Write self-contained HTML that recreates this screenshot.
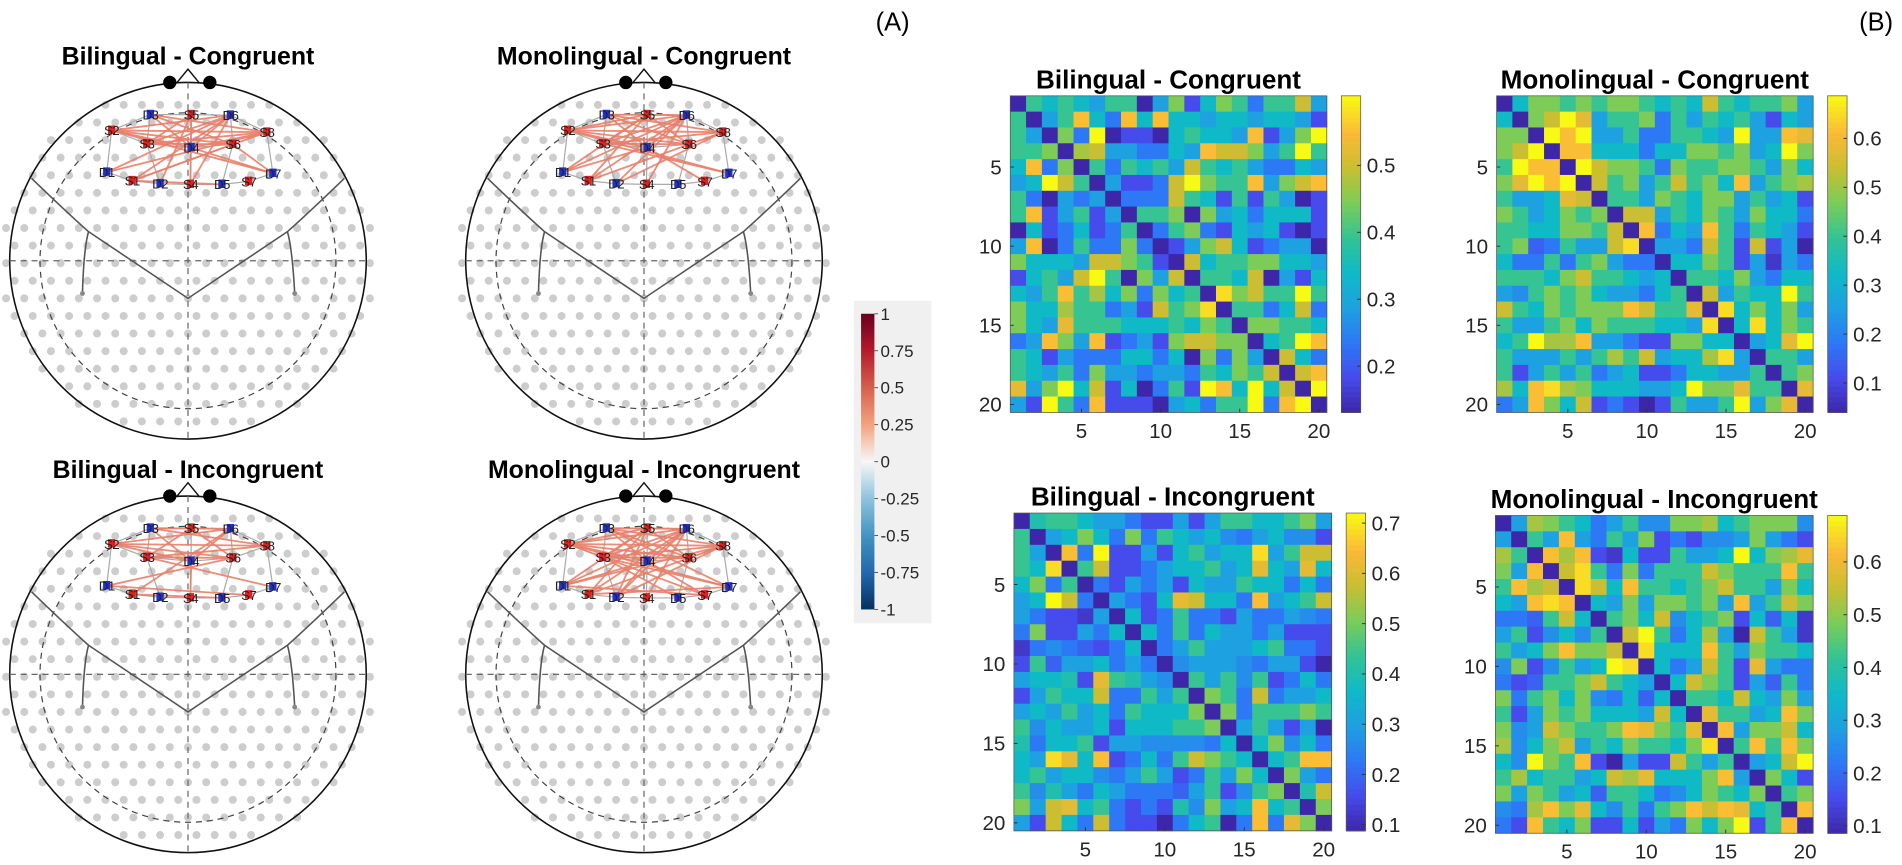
<!DOCTYPE html>
<html><head><meta charset="utf-8">
<style>
html,body{margin:0;padding:0;background:#fff;}
svg{display:block;font-family:"Liberation Sans",Arial,sans-serif;}
</style></head>
<body>
<svg id="fig" width="1902" height="865" viewBox="0 0 1568.3 713.2" preserveAspectRatio="none" xmlns="http://www.w3.org/2000/svg">
<text x="722" y="25" font-size="21">(A)</text>
<text x="1533" y="25" font-size="21">(B)</text>
<g id="heads"></g>
<g id="legend"></g>
<g id="heatmaps"></g>
</svg>
<script>
// ---------- heatmap data (colour levels 0..9 on each panel's colour scale) ----------
const bcLevels = [
[0,5,4,5,4,3,5,5,0,3,6,1,4,6,5,2,5,5,7,3],
[5,0,3,5,8,4,2,8,4,8,4,4,3,4,4,3,4,4,3,1],
[5,3,0,6,2,9,0,1,1,0,4,5,4,4,3,8,1,3,6,9],
[5,5,6,0,6.5,7,3,3,2,2,4,3,8,7,7,6,3,5,9,5],
[4,8,2,6,0,5,2,5,4,5,3,7,5,4,5,3,2,2,4,3],
[3,4,9,7,5,0,3,1,1,2,7,9,6,5,5,8,3,6,7,8],
[5,2,0,3,2,3,0,2,2,2,7,5,4,1,5,1,5,3,0,1],
[5,8,1,3,5,1,3,0,5,5,6,0,6,3,4,2,4,4,4,1],
[0,4,1,2,4,1,2,5,0,2,5,6,2,1,4,3,4,1,0,1],
[3,8,0,2,5,2,2,6,2,0,1,3,6,7,4,1,2,3,3,0],
[6,4,4,4,3,7,7,6,5,1,0,7,4,5,5,6,6,4,4,3],
[1,4,5,3,7,9,5,0,6,3,7,0,5,5,4,7,0,3,1,4],
[4,3,5,8,5,6.5,4,6,2,6,4,5,0,8.5,6,7,5,5,9,5],
[6,4,4,6.5,5,5,2,3,1,7,5,6,8.5,0,5,5,2,4,7,2],
[6,4,3,7.5,5,5,5,4,4,4,5,4,6,5,0,6,6,5,5,4],
[2,3,8,6,3,8,1,2,3,1,6,7,7,6,6,0,4,5,9,8],
[5,4,1,3,2,2,2,4,4,2,4,0,6,2,6,3,0,7,4,2],
[5,4,3,5,2,6,3,3,2,3,3,2,5,4,6,5,7,0,7,8],
[7.5,3,6,9,4,7,1,4,0,2,5,1,9,8,4,9,4,7,0,9],
[3,1,9,5,2,8,1,1,1,0,3,4,2,5,5,9,2,8,9,0]];
const mcLevels = [
[0,4,6,6,5,6,5,6,6,5,4,5,4,7,5,4,5,5,6,3],
[4,0,6,7,9,7.5,3,5,5,6,2,5,3,5,4,5,3,1,4,3],
[6,6,0,9,8,9,3,3,5,2,2,5,5,4,3,9,3,3,8,7.5],
[6,7,9,0,8,8,4,4,4,2,4,4,6,6,5,6,3,4,9,6],
[5,9,8,8,0,9,7,6,6,5,2,6,5,5,6,6,5,3,6,4],
[6,7.5,9,8,9,0,7,5,6,3,5,7,5,6,4,8,3,5,6,6.5],
[5,3,3,4,7.5,7,0,5,5,3,6,5,4,6,6,3,5,3,4,1],
[6,5,3,4,6,5,6,0,7,7,3,5,4,6,5,3,6,4,4,2],
[5,5,4,4,6,6,5,7,0,8,2,4,3,8,5,2,5,4,3,1],
[5,6,1.5,2,5,3,3,7,8.5,0,3,3,2,7,5,1,7,1,3,0],
[4,2,2,5,2,5,6,3,2,2,0,4,4,6,5,1,3,0.5,3,2],
[5,5,5,4,6,7,5,5,4,3,4,0,5,5,4,6,3,2,4,4],
[3,2.5,5,6,5,6,4,3,3,2,4,5,0,7,3,5,4,4,9,5],
[7,5,4,6,5,6,6,6,8,7,5,5,7.5,0,8.5,4,6,4,6,3],
[5,3,3,5,6,4,6,5,5,5,4,4,3,8.5,0,4,8.5,4,6,5],
[4,5,9,6.5,6.5,8,3,3,2,1,1,6,6,4,4,0,3,4,7.5,9],
[5,3,3,3,5,3,5,6.5,5,7,3,4,4,6.5,8.5,3,0,5,5,3],
[5,1,3,5,3,5,2,3,4,1,1,2,4,4,3,3,5,0,5,6],
[6.5,4,8,8.5,6.5,6,4,4,4,3,3,4,9,6,6,7.5,5,5,0,7.5],
[2,3,8,6,4,7,1,2,1,0,1,5,3,3,5,9,3,6,7.5,0]];
const biLevels = [
[0,4.5,5,5,4,3,3,2,1,1,3,1,3,5,5,4,4,5,6,3],
[5,0,3,4,6,4,2,6,2,5,4,3,4,2.5,2,3,4,2.5,2.5,1],
[5,3,0,8,2,9,1,1,3,1,4,5,3,4,4,8.5,3,5,7,7],
[5,4,8.5,0,5,7,1,1,2,3,4,4,5,3,4,7.5,4,3,7.5,4],
[4,6,2,5,0,2,1,3,2,3,1,4,3,3,5,4,4,2,4,2],
[3,4,9,7,2,0,3,2,1,4,7.5,7,4,4,2,8,3,4,5,7],
[3,2,1,1,0.5,3,0,4,1,2,5,2,2,1,3,2,2,3,2.5,2],
[2,6,1,1,3,2,4,0,4,2,5,2,4,3,3,2,3,1,1,1],
[0.5,2,2.5,2,1.5,1,2,4,0,2,3,5,3,3,3,4,5,2,2,1],
[1,5,1.5,3,3,4,2,3,2,0,2.5,3,3,3,2.5,2,3,3,1,0],
[3,4,4,4.5,1,7.5,5,4.5,3,2.5,0,5,3,5,2.5,5,1,2,4,2],
[1,3,5,4,4,7,2,2,5,3,5,0,6,5,2,7,2,3,3,4],
[3,4,3,5,3,4,2,5,4,4,4,6,0,6,2,5,5,5,6,5],
[5,2.5,4,3,3,4,1,4,4,4,5,5,6,0,3,5,3,1,3,0],
[4.5,2,4,4,5,1,3,3,2.5,2.5,2.5,2.5,2,4,0,4,6,2.5,4,2],
[4,3,8.5,7.5,4,8,1,2,4,2,5,7,6,5,4,0,4,5,8,8],
[4,5,3,4,4,2.5,2,3,5,3,1,2,5,3,6,4,0,6,3,2],
[5,2.5,4.5,3,2,4,3,2,2,2,1.5,3,5,1,2.5,5,6,0,4.5,7],
[6,3,7,7.5,4,5,2,1,2,1,4.5,2.5,6,3,4,8,4,5,0,6],
[3,1,7,4,2,7,2,1,1,0,2,4,5,0,2,8,2,7.5,6,0]];
const miLevels = [
[0,3,6.5,6,5,4,2,3,5,2.5,2.5,6,6,6.5,4,5,6,6,6,2.5],
[3,0,5,3,8,3,2,5,3,6,1,2,1,2.5,2.5,3,6,3,2,1],
[6.5,5,0,8,6.5,8,1,0.5,4,1,1,5,3,3,4,9,4,6,6.5,7.5],
[6,3,8,0,7,8.5,5,2,6,2,5,5,5,7,6,5,5,5,8,5],
[5,8,6.5,7,0,8.5,7,4,8,5,5,4,5,6,7,5,5,3,6,4],
[4,3,8,8.5,8,0,4,3,6,3,6,6,5,6,3,8,3,5,7,6],
[2,2,1.5,5,7,4,0,5,6,4,7,2.5,4,5,6,1,4,1.5,4,0.5],
[3,5,1,2.5,4,2.5,5,0,7,9,5,2,4,6.5,3,0,7,5,3,0.5],
[5,3,4,6,8,6,6,7,0,8.5,4,4,4,8,5,3,6,5,5,4],
[2.5,6,1,2.5,5,3,4,9,8.5,0,4,2,3,7,5,1,7.5,3,2,2],
[2,1,1.5,5,5,6,7,5,4,3,0,4,7,6,5,1,3,1.5,5,2],
[6,2,5,6,4,6,2.5,2,4,1.5,4,0,5,5,4,7,4,3,6,3],
[5,1,3,6,5,6,4,4,4,3,7,4,0,7.5,5,5,3,4,8,6],
[6,2.5,3,7,6,5,5,6,8,7.5,6,5,7.5,0,8,3,6,6,7,4],
[6.5,2.5,4,6,7,3,5,4,6,5,5,4,6,8.5,0,5,8,5,8,6],
[4,2.5,9,6,5,8,1,0,3,1,1,7,5,3,5,0,3,4,7,9],
[5,6.5,4,5,5,3,4,7,6.5,7.5,4,4,4,6,8,3,0,6,4,1],
[6,3,6,5,3,4,1.5,5,5,4,2,2.5,4,6,5,4,6,0,5,6],
[2.5,2,6.5,8,6,7.5,4,2.5,5,2,5,6,8,7,8,7.5,4,5,0,8],
[2,1,8,5,4,6,1,1,4,1,3,2,6,4,6,9,1,5,8,0]];
// colour-bar tick labels per heatmap
const bcTicks = [0.2,0.3,0.4,0.5];
const mcTicks = [0.1,0.2,0.3,0.4,0.5,0.6];
const biTicks = [0.1,0.2,0.3,0.4,0.5,0.6,0.7];
const miTicks = [0.1,0.2,0.3,0.4,0.5,0.6];
const bcRange = [0.131,0.604];
const mcRange = [0.04,0.687];
const biRange = [0.088,0.72];
const miRange = [0.086,0.688];
const axisTicks = [5,10,15,20];
// correlation legend ticks
const legendTicks = [1,0.75,0.5,0.25,0,-0.25,-0.5,-0.75,-1];
// fNIRS connectivity edges per condition
const bcEdges = [["S2","D6"],["S2","S8"],["D3","S8"],["D3","D4"],["S5","S3"],["D6","S3"],["D6","D4"],["D6","S1"],["D6","D1"],["S5","S4"],["S3","S6"],["S3","S8"],["D4","S8"],["S2","S6"],["S1","S8"],["D1","S8"],["S1","D5"],["S4","D6"],["D2","S5"],["D4","D7"],["S6","D7"],["S1","S6"],["D3","S6"],["S2","D4"],["S2","D7"]];
const mcEdges = [["S2","D6"],["S2","S8"],["D3","S8"],["D3","D4"],["S5","S3"],["D6","S3"],["D6","D4"],["S2","S5"],["S2","S6"],["S3","S8"],["S3","S6"],["S2","D7"],["D3","D6"],["D1","S5"],["D1","D6"],["S1","D6"],["S1","S5"],["D2","S8"],["S1","S8"],["S4","D6"],["D4","S7"],["S2","D4"],["D3","S6"],["S3","D7"],["D1","D4"],["D2","D6"],["S5","S6"]];
const biEdges = [["S2","S8"],["D3","D6"],["S3","S6"],["S2","D6"],["D3","S8"],["S3","S8"],["D1","S7"],["S2","S6"],["S5","S3"],["S5","S6"],["D3","D4"],["D6","D4"],["S2","D4"],["D1","S6"],["S1","D5"],["S1","D6"],["D4","S4"],["S3","D7"]];
const miEdges = [["S2","D6"],["S2","S8"],["D3","S8"],["D3","D4"],["S5","S3"],["D6","S3"],["D6","D4"],["S2","S5"],["S2","S6"],["S3","S8"],["S3","S6"],["S2","D7"],["D3","D6"],["D1","S5"],["D1","D6"],["S1","D6"],["S1","S5"],["D2","S8"],["S1","S8"],["S4","D6"],["D4","S7"],["S2","D4"],["D3","S6"],["S3","D7"],["D1","D4"],["D2","D6"],["S5","S6"],["D1","S8"],["D1","S7"],["S1","D7"],["D2","S5"],["S2","S7"],["D3","D7"],["S3","D5"],["D4","D2"]];

const NS = "http://www.w3.org/2000/svg";
function mk(tag, attrs, parent){const e=document.createElementNS(NS,tag);for(const k in attrs)e.setAttribute(k,attrs[k]);if(parent)parent.appendChild(e);return e;}

// parula-like colormap
const pStops=[[0,62,38,168],[0.11,70,75,235],[0.22,45,120,245],[0.33,30,160,225],[0.44,15,185,200],[0.55,50,195,150],[0.66,120,205,90],[0.77,200,190,50],[0.88,250,185,55],[1,249,250,20]];
function parula(t){t=Math.max(0,Math.min(1,t));for(let i=1;i<pStops.length;i++){if(t<=pStops[i][0]){const a=pStops[i-1],b=pStops[i];const f=(t-a[0])/(b[0]-a[0]);return `rgb(${Math.round(a[1]+f*(b[1]-a[1]))},${Math.round(a[2]+f*(b[2]-a[2]))},${Math.round(a[3]+f*(b[3]-a[3]))})`;}}return "rgb(249,250,20)";}

// ---------- heatmaps ----------
const hm = document.getElementById('heatmaps');
function drawHeatmap(levels, x0, y0, size, title, cbx, range, ticks, nm){
  const g = mk('g',{},hm);
  
  
  const n = levels.length, c = size/n;
  const xs = i => x0 + i*c, ys = j => y0 + j*c;
  levels.forEach((row,j)=>row.forEach((L,i)=>{
    const r = mk('rect',{x:xs(i),y:ys(j),width:c+0.4,height:c+0.4,fill:parula(L/9)},g);
    
    
  }));
  mk('rect',{x:x0,y:y0,width:size,height:size,fill:'none',stroke:'#555','stroke-width':0.6},g);
  const t = mk('text',{x:x0+size/2,y:y0-6,'text-anchor':'middle','font-size':21.5,'font-weight':'bold'},g);
  t.textContent = title;
  
  
  axisTicks.forEach(v=>{
    const p = x0 + (v-0.5)*c;
    const yl = mk('text',{x:x0-7,y:y0+(v-0.5)*c+6,'text-anchor':'end','font-size':17,fill:'#262626'},g);
    yl.textContent = v;
    
    
    const xl = mk('text',{x:p,y:y0+size+21,'text-anchor':'middle','font-size':17,fill:'#262626'},g);
    xl.textContent = v;
    
    
    mk('line',{x1:p,x2:p,y1:y0+size,y2:y0+size-3,stroke:'#333','stroke-width':0.8},g);
    mk('line',{x1:x0,x2:x0+3,y1:y0+(v-0.5)*c,y2:y0+(v-0.5)*c,stroke:'#333','stroke-width':0.8},g);
  });
  const cb = mk('g',{},g);
  
  
  const steps=60, w=16;
  for(let k=0;k<steps;k++){
    mk('rect',{x:cbx,y:y0+size-(k+1)*size/steps,width:w,height:size/steps+0.5,fill:parula((k+0.5)/steps)},cb);
  }
  mk('rect',{x:cbx,y:y0,width:w,height:size,fill:'none',stroke:'#555','stroke-width':0.6},cb);
  const vy = v => y0 + size - (v-range[0])/(range[1]-range[0])*size;
  ticks.forEach(v=>{
    mk('line',{x1:cbx+w-3,x2:cbx+w,y1:vy(v),y2:vy(v),stroke:'#333','stroke-width':0.8},cb);
    const tl = mk('text',{x:cbx+w+5,y:vy(v)+6,'font-size':17,fill:'#262626'},cb);
    tl.textContent = v.toFixed(1);
    
    
  });
}
drawHeatmap(bcLevels, 833, 79, 261, 'Bilingual - Congruent', 1106, bcRange, bcTicks, 'heatmap-bilingual-congruent');
drawHeatmap(mcLevels, 1234, 79, 261, 'Monolingual - Congruent', 1507, mcRange, mcTicks, 'heatmap-monolingual-congruent');
drawHeatmap(biLevels, 836, 423, 262, 'Bilingual - Incongruent', 1110, biRange, biTicks, 'heatmap-bilingual-incongruent');
drawHeatmap(miLevels, 1233, 425, 262, 'Monolingual - Incongruent', 1507, miRange, miTicks, 'heatmap-monolingual-incongruent');

// ---------- legend (correlation) ----------
const lg = document.getElementById('legend');
mk('rect',{x:704,y:248,width:64,height:266,fill:'#f0f0f0'},lg);
const defs = mk('defs',{},lg);
const grad = mk('linearGradient',{id:'rb',x1:0,y1:0,x2:0,y2:1},defs);
[['0','#67001f'],['0.12','#b2182b'],['0.25','#d6604d'],['0.38','#f4a582'],['0.5','#f7f7f7'],['0.62','#92c5de'],['0.75','#4393c3'],['0.88','#2166ac'],['1','#053061']].forEach(s=>mk('stop',{offset:s[0],'stop-color':s[1]},grad));
const lTop=258.7, lBot=502.5;
mk('rect',{x:710,y:lTop,width:11,height:lBot-lTop,fill:'url(#rb)'},lg);
const ly = v => lTop + (1-v)/2*(lBot-lTop);
legendTicks.forEach(v=>{
  mk('line',{x1:721,x2:724,y1:ly(v),y2:ly(v),stroke:'#555','stroke-width':0.8},lg);
  const t = mk('text',{x:726,y:ly(v)+5,'font-size':14,fill:'#262626'},lg);
  t.textContent = String(v);
  
  
});

// ---------- head maps ----------
const optodes = {D3:[-31,-120.5],S5:[2.6,-120.5],D6:[35,-120],S2:[-63,-107.5],S8:[65,-106],S3:[-34,-96.5],D4:[2.6,-93.3],S6:[37,-96],D1:[-67,-73],S1:[-46,-66],D2:[-23,-63.5],S4:[2,-63],D5:[28,-63],S7:[50,-65.4],D7:[70,-72]};
const neighbours = [["D3","S5"],["S5","D6"],["S2","D3"],["D6","S8"],["S2","S3"],["S3","D4"],["D4","S6"],["S6","S8"],["D1","S1"],["S1","D2"],["D2","S4"],["S4","D5"],["D5","S7"],["S7","D7"],["S8","D7"],["S2","D1"],["S3","D2"],["S6","D5"],["D4","S4"],["S5","D4"],["D3","S3"],["D6","S6"]];
const hg = document.getElementById('heads');
function drawHead(cx, cy, title, edges, nm){
  const g = mk('g',{},hg);
  
  
  const R = 147;
  for(let j=-9;j<=10;j++){
    for(let i=-11;i<=11;i++){
      const x = cx + i*15 + (j%2?7:0), y = cy + j*14.5 + 2;
      const d = Math.hypot((x-cx)/(R+10),(y-cy)/(R-2));
      if(d<=1) mk('circle',{cx:x,cy:y,r:3.3,fill:'#cdcdcd'},g);
    }
  }
  mk('circle',{cx:cx,cy:cy,r:R,fill:'none',stroke:'#111','stroke-width':1.3},g);
  mk('circle',{cx:cx,cy:cy,r:122,fill:'none',stroke:'#444','stroke-width':1,'stroke-dasharray':'5,4'},g);
  mk('line',{x1:cx-R,x2:cx+R,y1:cy,y2:cy,stroke:'#666','stroke-width':1,'stroke-dasharray':'5,4'},g);
  mk('line',{x1:cx,x2:cx,y1:cy-R,y2:cy+R,stroke:'#666','stroke-width':1,'stroke-dasharray':'5,4'},g);
  mk('path',{d:`M${cx-9},${cy-R} L${cx},${cy-R-11} L${cx+9},${cy-R}`,fill:'none',stroke:'#111','stroke-width':1.2},g);
  mk('circle',{cx:cx-15,cy:cy-R,r:5.5,fill:'#000'},g);
  mk('circle',{cx:cx+18,cy:cy-R,r:5.5,fill:'#000'},g);
  mk('path',{d:`M${cx-129},${cy-68} Q${cx-100},${cy-40} ${cx-82},${cy-24} L${cx},${cy+31} L${cx+82},${cy-24} Q${cx+100},${cy-40} ${cx+129},${cy-68}`,fill:'none',stroke:'#555','stroke-width':1.3},g);
  mk('path',{d:`M${cx-82},${cy-24} Q${cx-86},${cy-10} ${cx-87},${cy+27}`,fill:'none',stroke:'#555','stroke-width':1.3},g);
  mk('path',{d:`M${cx+82},${cy-24} Q${cx+86},${cy-10} ${cx+88},${cy+27}`,fill:'none',stroke:'#555','stroke-width':1.3},g);
  mk('circle',{cx:cx-87,cy:cy+27,r:2,fill:'#888'},g);
  mk('circle',{cx:cx+88,cy:cy+27,r:2,fill:'#888'},g);
  const P = k => [cx+optodes[k][0], cy+optodes[k][1]];
  neighbours.forEach(e=>{const a=P(e[0]),b=P(e[1]);mk('line',{x1:a[0],y1:a[1],x2:b[0],y2:b[1],stroke:'#aaa','stroke-width':1},g);});
  edges.forEach(e=>{
    const a=P(e[0]),b=P(e[1]);
    const l = mk('line',{x1:a[0],y1:a[1],x2:b[0],y2:b[1],stroke:'#e8806a','stroke-width':1.5,opacity:0.9},g);
    
    
  });
  Object.keys(optodes).forEach(k=>{
    const p = P(k);
    mk('rect',{x:p[0]-3,y:p[1]-4,width:6,height:7,fill:k[0]==='S'?'#e02020':'#2030d0'},g);
    const t = mk('text',{x:p[0],y:p[1]+4,'text-anchor':'middle','font-size':11,fill:'#222','letter-spacing':'-0.5'},g);
    t.textContent = k;
    
    
  });
  const tt = mk('text',{x:cx,y:cy-R-15,'text-anchor':'middle','font-size':20.5,'font-weight':'bold'},g);
  tt.textContent = title;
  
  
}
drawHead(155, 215, 'Bilingual - Congruent', bcEdges, 'head-bilingual-congruent');
drawHead(531, 215, 'Monolingual - Congruent', mcEdges, 'head-monolingual-congruent');
drawHead(155, 556, 'Bilingual - Incongruent', biEdges, 'head-bilingual-incongruent');
drawHead(531, 556, 'Monolingual - Incongruent', miEdges, 'head-monolingual-incongruent');
</script>
</body></html>
